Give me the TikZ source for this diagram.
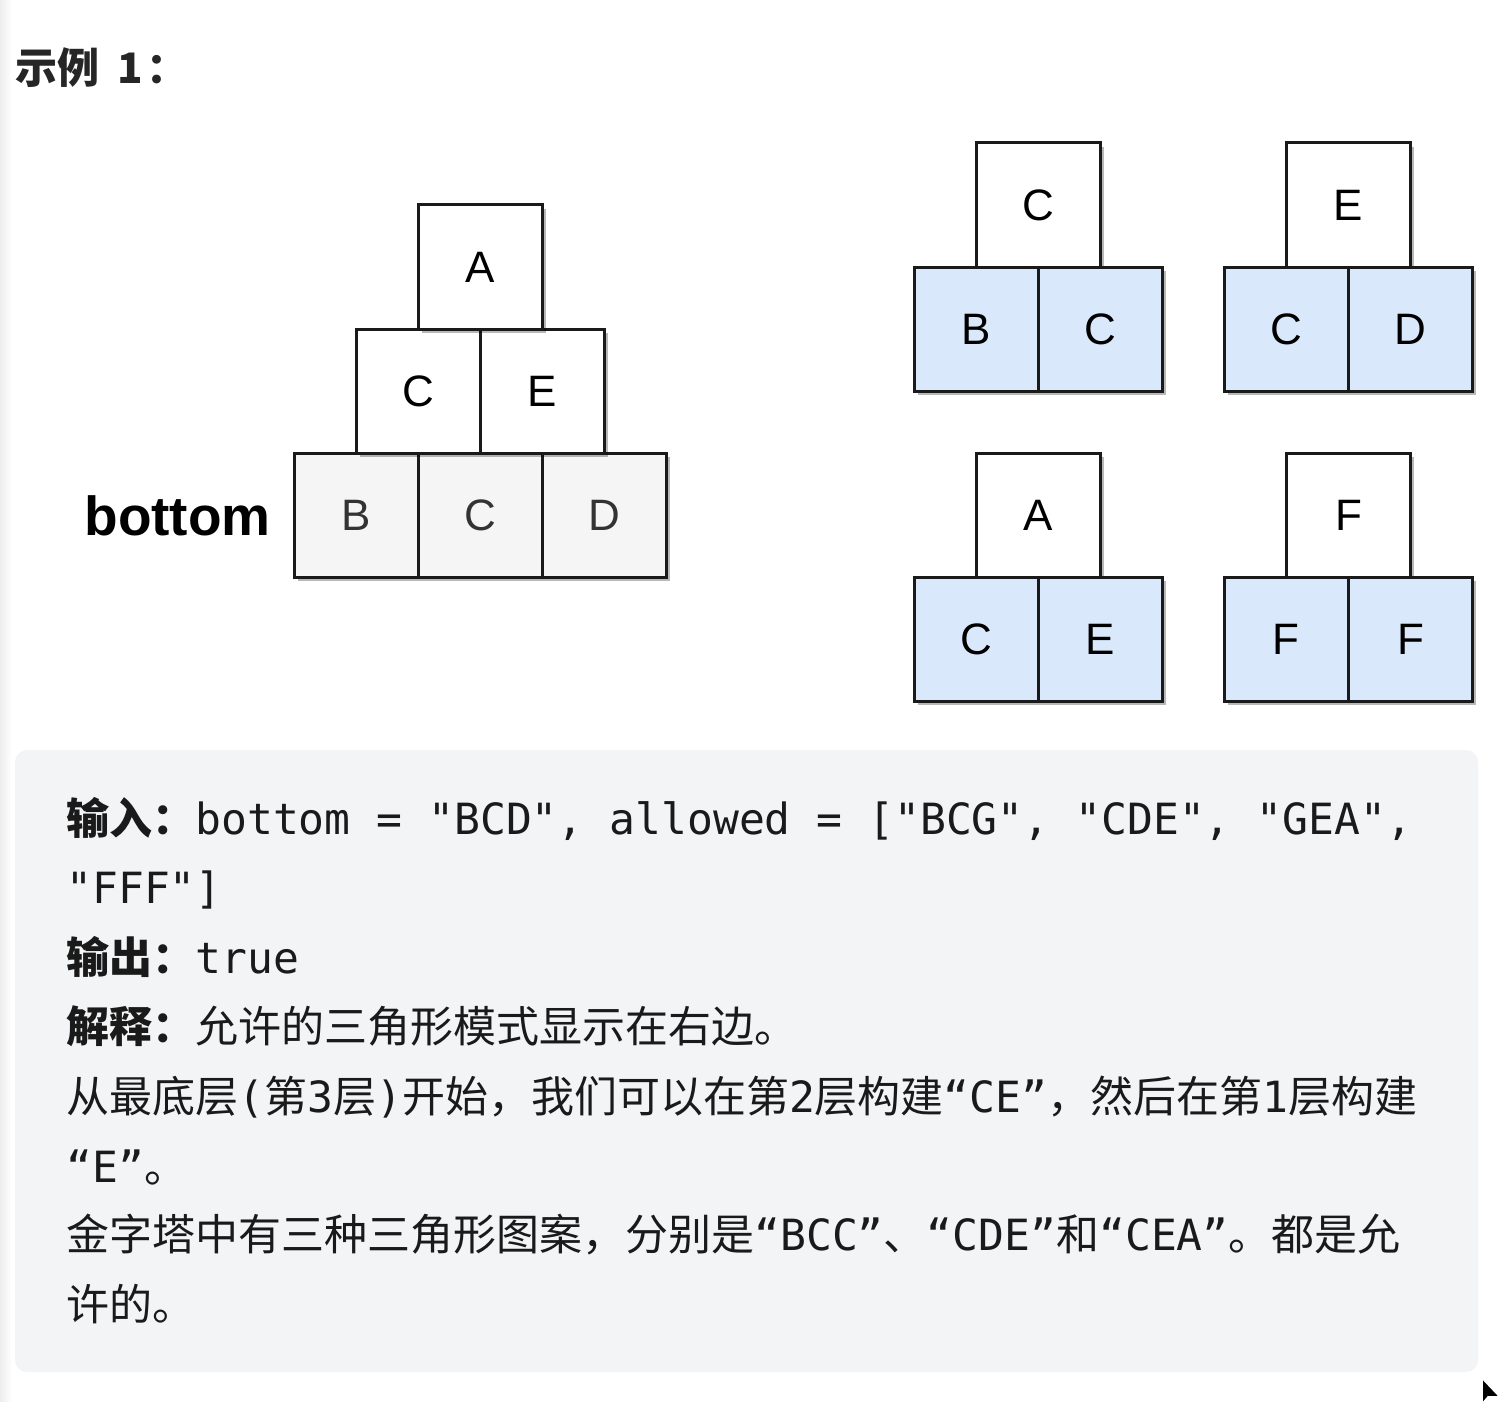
\documentclass[tikz,border=0pt]{standalone}
\usepackage{fontspec}
\setmainfont{Liberation Sans}
\newfontfamily\cjk{Noto Sans CJK SC}
\newfontfamily\monof{DejaVu Sans Mono}
\newfontfamily\boxfont{Liberation Sans}
\usetikzlibrary{shadows}
\definecolor{boxline}{HTML}{1A1A1A}
\definecolor{graycell}{HTML}{F5F5F5}
\definecolor{bluecell}{HTML}{DAE8FC}
\definecolor{panel}{HTML}{F3F4F6}
\definecolor{ink}{HTML}{1A1A1A}
\newcommand\zh[1]{{\cjk #1}}
\newcommand\en[1]{{\monof #1}}
\tikzset{
  cell/.style={draw=boxline, line width=1.5pt, minimum width=62pt, minimum height=62pt,
    inner sep=0pt, font=\boxfont\fontsize{22pt}{22pt}\selectfont, text=black,
    drop shadow={shadow xshift=1.8pt, shadow yshift=-1.8pt, fill=black, opacity=0.28}},
  topcell/.style={cell, fill=white},
  basecell/.style={cell, fill=graycell, text=black!80},
  bluecellst/.style={cell, fill=bluecell},
  txtline/.style={anchor=base west, inner sep=0pt, text=ink,
    font=\fontsize{21.5pt}{21.5pt}\selectfont}
}
\begin{document}
\begin{tikzpicture}[x=0.5pt, y=-0.5pt]
\useasboundingbox (0,0) rectangle (1506,1402);
\fill[white] (0,0) rectangle (1506,1402);
\shade[left color=black!7, right color=white] (0,0) rectangle (12,1402);

% title
\node[anchor=base west, inner sep=0pt, text=black!85,
  font=\cjk\bfseries\fontsize{21pt}{21pt}\selectfont] (title) at (15,84) {示例\hspace{9pt}1\hspace{2pt}：};

% pyramid
\node[anchor=base west, inner sep=0pt, font=\bfseries\fontsize{27.5pt}{27.5pt}\selectfont] (bottomlbl) at (84,535) {bottom};
\node[basecell] (pB) at (356,515) {B};
\node[basecell] (pC) at (480.5,515) {C};
\node[basecell] (pD) at (604.5,515) {D};
\node[topcell] (pC2) at (418,391) {C};
\node[topcell] (pE2) at (542.5,391) {E};
\node[topcell] (pA) at (480.5,267) {A};

% group 1
\node[topcell] (g1t) at (1038.5,205) {C};
\node[bluecellst] (g1l) at (976,329) {B};
\node[bluecellst] (g1r) at (1100.5,329) {C};
% group 2
\node[topcell] (g2t) at (1348.5,205) {E};
\node[bluecellst] (g2l) at (1286,329) {C};
\node[bluecellst] (g2r) at (1410.5,329) {D};
% group 3
\node[topcell] (g3t) at (1038.5,515) {A};
\node[bluecellst] (g3l) at (976,639) {C};
\node[bluecellst] (g3r) at (1100.5,639) {E};
% group 4
\node[topcell] (g4t) at (1348.5,515) {F};
\node[bluecellst] (g4l) at (1286,639) {F};
\node[bluecellst] (g4r) at (1410.5,639) {F};

% panel
\fill[panel, rounded corners=6pt] (15,750) rectangle (1478,1372);

\node[txtline] (l1) at (66,834) {{\cjk\bfseries 输入：}\en{bottom = "BCD", allowed = ["BCG", "CDE", "GEA",}};
\node[txtline] (l2) at (66,903) {\en{"FFF"]}};
\node[txtline] (l3) at (66,973) {{\cjk\bfseries 输出：}\en{true}};
\node[txtline] (l4) at (66,1042) {{\cjk\bfseries 解释：}\zh{允许的三角形模式显示在右边。}};
\node[txtline] (l5) at (66,1112) {\zh{从最底层}\en{(}\zh{第}\en{3}\zh{层}\en{)}\zh{开始，我们可以在第}\en{2}\zh{层构建}\en{“CE”}\zh{，然后在第}\en{1}\zh{层构建}};
\node[txtline] (l6) at (66,1182) {\en{“E”}\zh{。}};
\node[txtline] (l7) at (66,1250) {\zh{金字塔中有三种三角形图案，分别是}\en{“BCC”}\zh{、}\en{“CDE”}\zh{和}\en{“CEA”}\zh{。都是允}};
\node[txtline] (l8) at (66,1320) {\zh{许的。}};

% cursor
\begin{scope}
\clip (1470,1370) rectangle (1506,1402);
\filldraw[fill=black, draw=white, line width=0.8pt] (1482,1378) -- (1482,1404) -- (1488,1397) -- (1500,1397) -- cycle;
\end{scope}
\end{tikzpicture}
\end{document}
